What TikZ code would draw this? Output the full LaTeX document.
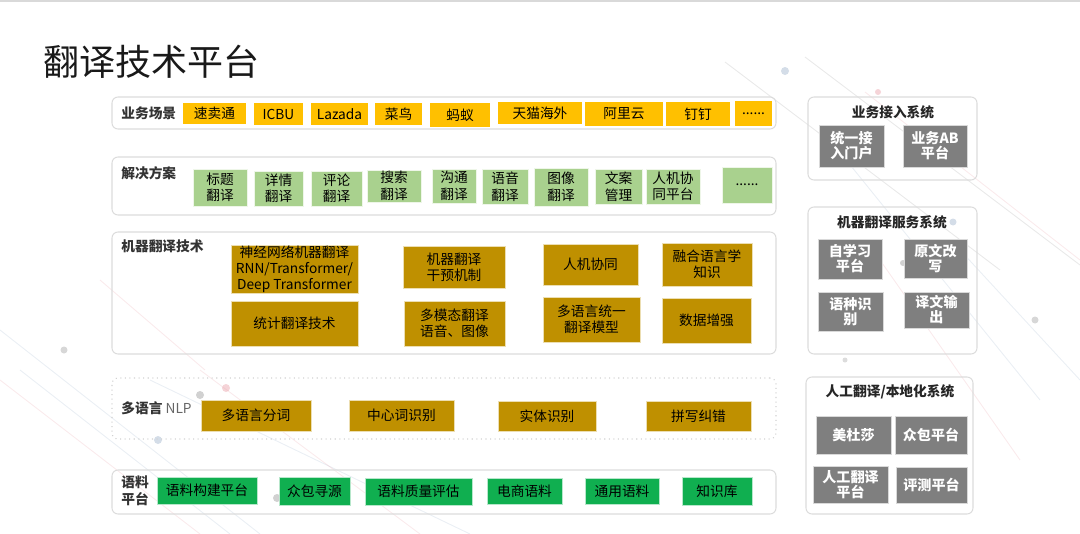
\documentclass[tikz,border=0pt]{standalone}
\usepackage{fontspec}
\setmainfont{Noto Sans CJK SC}
\definecolor{cyel}{HTML}{FFC000}
\definecolor{clgreen}{HTML}{A9D18E}
\definecolor{cgold}{HTML}{BF9000}
\definecolor{cgreen}{HTML}{10AF50}
\definecolor{cgray}{HTML}{7F7F7F}
\definecolor{cpanel}{HTML}{DCDCDC}
\definecolor{cpink}{HTML}{E8A0A8}
\definecolor{cblue}{HTML}{9FB4CC}
\newcommand\bx[7]{%
  \pgfmathsetmacro\bxcx{(#3+#5)/2}\pgfmathsetmacro\bxcy{(#4+#6)/2}%
  \pgfmathsetmacro\bxw{(#5-#3)*0.02}\pgfmathsetmacro\bxh{(#6-#4)*0.02}%
  \node[#1, minimum width=\bxw cm, minimum height=\bxh cm] (#2) at (\bxcx,\bxcy) {#7};}
\begin{document}
\begin{tikzpicture}[x=0.02cm,y=-0.02cm,
 box/.style={inner sep=0pt, outer sep=0pt, align=center, font=\fontsize{7.8}{9.4}\selectfont, text=black},
 ybox/.style={box, fill=cyel},
 lgbox/.style={box, fill=clgreen, draw=white!80!clgreen, line width=0.4pt},
 gdbox/.style={box, fill=cgold, draw=white!70!cgold, line width=0.4pt, font=\fontsize{7.8}{9}\selectfont},
 gnbox/.style={box, fill=cgreen, draw=white!70!cgreen, line width=0.4pt},
 grbox/.style={box, fill=cgray, text=white, draw=white!70!cgray, line width=0.4pt, font=\bfseries\fontsize{8}{8.6}\selectfont},
 panel/.style={draw=cpanel, rounded corners=0.12cm, line width=0.6pt, inner sep=0pt},
 dpanel/.style={panel, dotted, draw=black!18},
 plabel/.style={anchor=west, inner sep=0pt, font=\bfseries\fontsize{7.8}{9.6}\selectfont, text=black!80, align=left},
 ptitle/.style={inner sep=0pt, font=\bfseries\fontsize{7.8}{9}\selectfont, text=black!85},
 deco/.style={line width=0.5pt, opacity=0.22},
 dot/.style={opacity=0.45},
]
\useasboundingbox (0,0) rectangle (1080,534);
\fill[black!15] (0,0) rectangle (1080,2);
% decorative background
\draw[deco, cblue] (0,330) -- (260,534);
\draw[deco, cpink] (0,380) -- (200,534);
\draw[deco, cblue] (20,370) -- (230,534);
\draw[deco, cpink] (100,280) -- (205,370);
\draw[deco, cblue] (150,380) -- (470,534);
\draw[deco, cpink] (200,370) -- (420,534);
\draw[deco, black!40] (725,62) -- (1000,270);
\draw[deco, black!40] (805,57) -- (1080,265);
\draw[deco, cpink] (865,92) -- (1080,260);
\draw[deco, cblue] (830,140) -- (1040,400);
\draw[deco, cpink] (880,260) -- (1020,460);
\draw[deco, cblue] (960,250) -- (1080,380);
\fill[dot, cblue] (785,71) circle (4);
\fill[dot, cpink] (878,92) circle (3);
\fill[dot, cblue] (953,222) circle (3.5);
\fill[dot, black!40] (903,263) circle (3);
\fill[dot, black!30] (845,360) circle (2.5);
\fill[dot, black!35] (1035,320) circle (3.5);
\fill[dot, black!35] (64,350) circle (3.5);
\fill[dot, cpink] (226,388) circle (4);
\fill[dot, black!40] (200,395) circle (4);
\fill[dot, cblue] (158,440) circle (4);
\fill[dot, black!40] (277,498) circle (4);
% title
\node[anchor=west, inner sep=0pt, font=\fontsize{20.5}{21}\selectfont, text=black!90] (title) at (43,62) {翻译技术平台};
% left panels
\bx{panel}{p1}{112}{97}{776}{129}{}
\bx{panel}{p2}{112}{157}{776}{215}{}
\bx{panel}{p3}{112}{232}{776}{354}{}
\bx{dpanel}{p4}{112}{378}{776}{439}{}
\bx{panel}{p5}{112}{470}{776}{514}{}
\node[plabel] (l1) at (121,113) {业务场景};
\node[plabel] (l2) at (121,173) {解决方案};
\node[plabel] (l3) at (121,246) {机器翻译技术};
\node[plabel] (l4) at (121,408) {多语言 {\mdseries\color{black!60}NLP}};
\node[plabel] (l5) at (121,491) {语料\\平台};
% row 1
\bx{ybox}{a1}{183}{103}{246}{124}{速卖通}
\bx{ybox}{a2}{254}{103}{303}{125}{ICBU}
\bx{ybox}{a3}{311}{103}{368}{125}{Lazada}
\bx{ybox}{a4}{375}{103}{422}{125}{菜鸟}
\bx{ybox}{a5}{430}{103}{490}{127}{蚂蚁}
\bx{ybox}{a6}{498}{102}{582}{124}{天猫海外}
\bx{ybox}{a7}{585}{102}{663}{126}{阿里云}
\bx{ybox}{a8}{666}{102}{730}{126}{钉钉}
\bx{ybox}{a9}{735}{101}{772}{126}{......}
% row 2
\bx{lgbox}{b1}{193}{169}{247}{206}{标题\\翻译}
\bx{lgbox}{b2}{254}{171}{303}{206}{详情\\翻译}
\bx{lgbox}{b3}{311}{171}{362}{206}{评论\\翻译}
\bx{lgbox}{b4}{367}{170}{421}{202}{搜索\\翻译}
\bx{lgbox}{b5}{432}{169}{476}{203}{沟通\\翻译}
\bx{lgbox}{b6}{482}{169}{528}{204}{语音\\翻译}
\bx{lgbox}{b7}{534}{168}{588}{206}{图像\\翻译}
\bx{lgbox}{b8}{595}{169}{642}{204}{文案\\管理}
\bx{lgbox}{b9}{646}{169}{700}{204}{人机协\\同平台}
\bx{lgbox}{b10}{722}{167}{772}{203}{......}
% row 3
\bx{gdbox}{c1}{231}{245}{358}{293}{神经网络机器翻译\\RNN/Transformer/\\Deep Transformer}
\bx{gdbox}{c2}{231}{301}{358}{346}{统计翻译技术}
\bx{gdbox}{c3}{403}{246}{505}{288}{机器翻译\\干预机制}
\bx{gdbox}{c4}{404}{301}{505}{346}{多模态翻译\\语音、图像}
\bx{gdbox}{c5}{543}{244}{638}{285}{人机协同}
\bx{gdbox}{c6}{543}{297}{640}{342}{多语言统一\\翻译模型}
\bx{gdbox}{c7}{662}{243}{752}{286}{融合语言学\\知识}
\bx{gdbox}{c8}{662}{298}{751}{343}{数据增强}
% row 4
\bx{gdbox}{d1}{201}{400}{311}{431}{多语言分词}
\bx{gdbox}{d2}{349}{400}{454}{431}{中心词识别}
\bx{gdbox}{d3}{498}{401}{596}{431}{实体识别}
\bx{gdbox}{d4}{646}{401}{751}{431}{拼写纠错}
% row 5
\bx{gnbox}{e1}{157}{477}{257}{504}{语料构建平台}
\bx{gnbox}{e2}{279}{477}{350}{505}{众包寻源}
\bx{gnbox}{e3}{365}{478}{472}{505}{语料质量评估}
\bx{gnbox}{e4}{487}{478}{562}{504}{电商语料}
\bx{gnbox}{e5}{585}{478}{659}{504}{通用语料}
\bx{gnbox}{e6}{682}{477}{752}{505}{知识库}
% right panels
\bx{panel}{r1}{808}{97}{977}{180}{}
\bx{panel}{r2}{808}{207}{977}{354}{}
\bx{panel}{r3}{806}{377}{973}{514}{}
\node[ptitle] (t1) at (893,112) {业务接入系统};
\node[ptitle] (t2) at (892,222) {机器翻译服务系统};
\node[ptitle] (t3) at (890,392) {人工翻译/本地化系统};
\bx{grbox}{f1}{819}{125}{884}{167}{统一接\\入门户}
\bx{grbox}{f2}{903}{125}{967}{167}{业务AB\\平台}
\bx{grbox}{g1}{818}{239}{882}{279}{自学习\\平台}
\bx{grbox}{g2}{904}{239}{967}{278}{原文改\\写}
\bx{grbox}{g3}{818}{292}{883}{331}{语种识\\别}
\bx{grbox}{g4}{904}{292}{969}{328}{译文输\\出}
\bx{grbox}{h1}{816}{416}{891}{454}{美杜莎}
\bx{grbox}{h2}{895}{416}{967}{454}{众包平台}
\bx{grbox}{h3}{813}{466}{888}{503}{人工翻译\\平台}
\bx{grbox}{h4}{896}{467}{967}{503}{评测平台}
\end{tikzpicture}
\end{document}
